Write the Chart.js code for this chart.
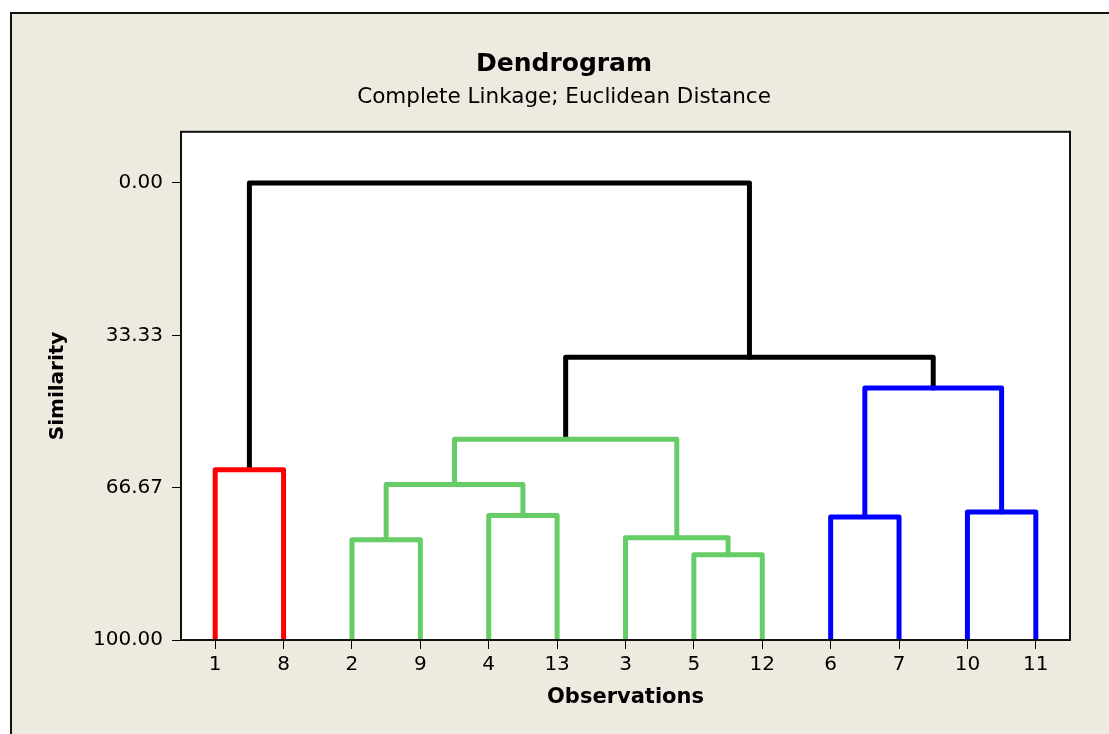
<!DOCTYPE html>
<html><head><meta charset="utf-8">
<script src="https://cdn.jsdelivr.net/npm/chart.js@4.4.1/dist/chart.umd.min.js"></script>
<style>
html,body{margin:0;padding:0;background:#fff;overflow:hidden;}
#frame{position:absolute;left:10px;top:12px;width:1097px;height:720px;background:#EEEAE0;border-left:2px solid #111;border-top:2px solid #111;}
#wrap{position:absolute;left:0;top:0;width:1109px;height:734px;}
</style></head><body>
<div id="frame"></div>
<div id="wrap"><canvas id="c" width="1109" height="734"></canvas></div>
<script>
// Leaf order along the x axis
const observations = ['1','8','2','9','4','13','3','5','12','6','7','10','11'];
// Merge steps: cluster Ck is formed by step k (1-based)
const mergeLeft  = ['1','2','4','C2','5','3','C4','6','10','C8','C7','C1'];
const mergeRight = ['8','9','13','C3','12','C5','C6','7','11','C9','C10','C11'];
const mergeSimilarity = [62.75,78.04,72.76,65.98,81.36,77.65,56.08,73.06,71.97,44.88,38.13,0];
const mergeGroup = ['red','green','green','green','green','green','green','blue','blue','blue','black','black'];
const yTicks = [0,33.33,66.67,100];

const groupColors = {red:'#FF0000', green:'#66CC66', blue:'#0000FF', black:'#000000'};

const nodes = {};
observations.forEach((o,i)=>{ nodes[o] = {x:i, y:100}; });
const datasets = [];
mergeLeft.forEach((l,k)=>{
  const a = nodes[l], b = nodes[mergeRight[k]], h = mergeSimilarity[k];
  nodes['C'+(k+1)] = {x:(a.x+b.x)/2, y:h};
  datasets.push({
    data:[{x:a.x,y:a.y},{x:a.x,y:h},{x:b.x,y:h},{x:b.x,y:b.y}],
    showLine:true, borderColor:groupColors[mergeGroup[k]], backgroundColor:groupColors[mergeGroup[k]],
    borderWidth:5, pointRadius:0, borderJoinStyle:'round', borderCapStyle:'butt', tension:0
  });
});

Chart.defaults.font.family = "'DejaVu Sans', sans-serif";
Chart.defaults.color = '#000';

const plotFrame = {
  id:'plotFrame',
  beforeDraw(chart){
    const {ctx, chartArea:a} = chart;
    ctx.save(); ctx.fillStyle='#fff';
    ctx.fillRect(a.left, a.top, a.right-a.left, a.bottom-a.top);
    ctx.restore();
  },
  afterDraw(chart){
    const {ctx, chartArea:a} = chart;
    ctx.save(); ctx.strokeStyle='#111'; ctx.lineWidth=2;
    ctx.strokeRect(a.left, a.top, a.right-a.left, a.bottom-a.top);
    ctx.restore();
  }
};

new Chart(document.getElementById('c'), {
  type:'scatter',
  data:{datasets},
  plugins:[plotFrame],
  options:{
    responsive:false, animation:false,
    layout:{padding:{left:58,right:39,top:0,bottom:0}},
    plugins:{
      legend:{display:false}, tooltip:{enabled:false},
      title:{display:true, text:'Dendrogram', font:{size:25, weight:'bold'}, padding:{top:49,bottom:6}},
      subtitle:{display:true, text:'Complete Linkage; Euclidean Distance', font:{size:21.5, weight:'normal'}, color:'#000', padding:{top:0,bottom:21}}
    },
    scales:{
      x:{
        type:'linear', min:-0.5, max:12.5,
        afterBuildTicks:s=>{ s.ticks = observations.map((_,i)=>({value:i})); },
        afterFit:s=>{ s.height = 94; },
        ticks:{autoSkip:false, maxRotation:0, font:{size:20}, padding:4, callback:v=>observations[v]},
        grid:{drawOnChartArea:false, drawTicks:true, tickLength:9, color:'#000', lineWidth:1},
        border:{display:false},
        title:{display:true, text:'Observations', font:{size:21, weight:'bold'}, padding:{top:0,bottom:24}}
      },
      y:{
        type:'linear', reverse:true, min:-11.2, max:100,
        afterBuildTicks:s=>{ s.ticks = yTicks.map(v=>({value:v})); },
        afterFit:s=>{ s.width = 123; },
        ticks:{autoSkip:false, font:{size:20}, padding:9, callback:v=>Number(v).toFixed(2)},
        grid:{drawOnChartArea:false, drawTicks:true, tickLength:9, color:'#000', lineWidth:1},
        border:{display:false},
        title:{display:true, text:'Similarity', font:{size:20, weight:'bold'}, padding:{top:-12,bottom:0}}
      }
    }
  }
});
</script>
</body></html>
